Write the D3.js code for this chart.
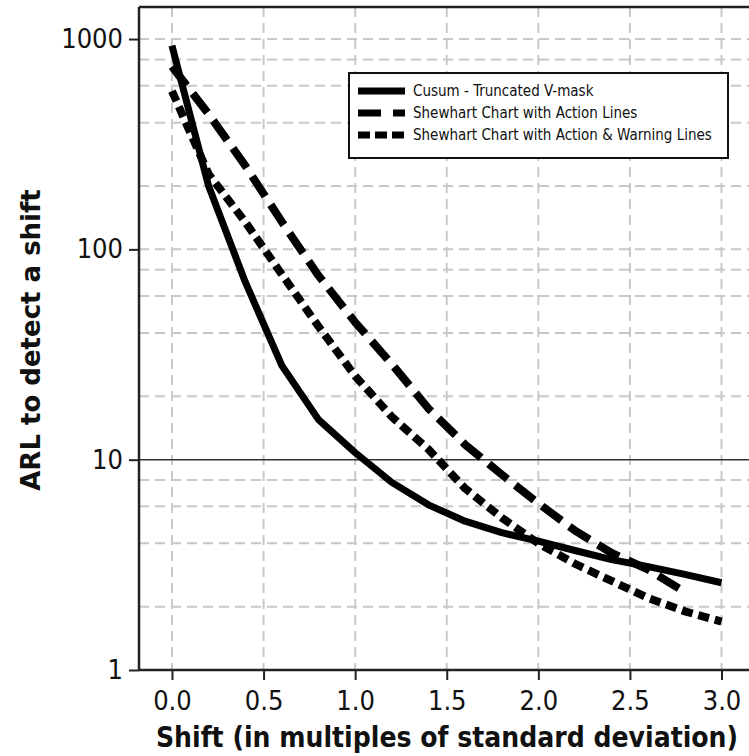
<!DOCTYPE html>
<html>
<head>
<meta charset="utf-8">
<script src="https://cdn.jsdelivr.net/npm/d3@7"></script>
<style>
  body { margin: 0; background: #fff; }
  svg { display: block; }
  text { font-family: "DejaVu Sans Condensed", "DejaVu Sans", sans-serif; fill: #111; }
</style>
</head>
<body>
<svg id="chart" width="749" height="756"></svg>
<script>
// shift values (multiples of sigma)
var shifts = [0, 0.2, 0.4, 0.6, 0.8, 1.0, 1.2, 1.4, 1.6, 1.8, 2.0, 2.2, 2.4, 2.6, 2.8, 3.0];
var cusum = [930, 200, 70, 28, 15.5, 10.8, 7.8, 6.1, 5.1, 4.5, 4.1, 3.7, 3.35, 3.1, 2.85, 2.6];
var shewhartShifts = [0, 0.2, 0.4, 0.6, 0.8, 1.0, 1.2, 1.4, 1.6, 1.8, 2.0, 2.2, 2.4, 2.6, 2.8];
var shewhart = [740, 440, 250, 135, 75, 45, 28.5, 17.5, 11.8, 8.5, 6.2, 4.6, 3.6, 3.0, 2.35];
var shewhartWarn = [565, 228, 135, 76, 43, 25, 16, 11.2, 7.3, 5.3, 4.0, 3.2, 2.65, 2.2, 1.9, 1.7];

var xTicks = [0, 0.5, 1.0, 1.5, 2.0, 2.5, 3.0];
var yTicks = [1, 10, 100, 1000];
var yGrid = [2, 4, 6, 8, 20, 40, 60, 80, 100, 200, 400, 600, 800, 1000];
var legendLabels = ["Cusum - Truncated V-mask", "Shewhart Chart with Action Lines", "Shewhart Chart with Action & Warning Lines"];

(function() {
    var svg = d3.select("#chart");

    var pLeft = 139, pRight = 749, pTop = 7, pBottom = 670;

    var x = d3.scaleLinear().domain([-0.18, 3.15]).range([pLeft, pRight]);
    var y = d3.scaleLog().domain([1, 1420]).range([pBottom, pTop]);

    // grid
    var grid = svg.append("g");
    grid.selectAll(".hg")
        .data(yGrid)
        .enter().append("line")
        .attr("x1", pLeft).attr("x2", pRight)
        .attr("y1", function(d) { return y(d); })
        .attr("y2", function(d) { return y(d); })
        .attr("stroke", "#c8c8c8")
        .attr("stroke-width", 2)
        .attr("stroke-dasharray", "10,6");
    grid.selectAll(".vg")
        .data(xTicks)
        .enter().append("line")
        .attr("x1", function(d) { return x(d); })
        .attr("x2", function(d) { return x(d); })
        .attr("y1", pTop).attr("y2", pBottom)
        .attr("stroke", "#c8c8c8")
        .attr("stroke-width", 2)
        .attr("stroke-dasharray", "10,6");

    // reference line at 10
    svg.append("line")
        .attr("x1", pLeft).attr("x2", pRight)
        .attr("y1", y(10)).attr("y2", y(10))
        .attr("stroke", "#333")
        .attr("stroke-width", 1.6);

    // axes
    var xAxis = d3.axisBottom(x).tickValues(xTicks).tickSize(10).tickPadding(6)
        .tickFormat(d3.format(".1f"));
    var yAxis = d3.axisLeft(y).tickValues(yTicks).tickSize(10).tickPadding(6)
        .tickFormat(d3.format("d"));

    var gx = svg.append("g").attr("transform", "translate(0," + pBottom + ")").call(xAxis);
    var gy = svg.append("g").attr("transform", "translate(" + pLeft + ",0)").call(yAxis);
    [gx, gy].forEach(function(g) {
        g.select(".domain").remove();
        g.selectAll(".tick line").attr("stroke", "#222").attr("stroke-width", 2);
        g.selectAll(".tick text")
            .style("font-family", "'DejaVu Sans Condensed', sans-serif")
            .style("font-size", "27px")
            .attr("fill", "#111");
    });
    gx.selectAll(".tick text").attr("dy", "0.9em");

    // frame lines
    svg.append("line").attr("x1", pLeft).attr("x2", pRight).attr("y1", pBottom).attr("y2", pBottom)
        .attr("stroke", "#222").attr("stroke-width", 2.5);
    svg.append("line").attr("x1", pLeft).attr("x2", pLeft).attr("y1", pTop).attr("y2", pBottom)
        .attr("stroke", "#222").attr("stroke-width", 2.5);
    svg.append("line").attr("x1", pLeft).attr("x2", pRight).attr("y1", pTop).attr("y2", pTop)
        .attr("stroke", "#222").attr("stroke-width", 2.5);

    // series
    var series = [
        { xs: shifts, ys: cusum, dash: null, width: 7 },
        { xs: shewhartShifts, ys: shewhart, dash: "24,10", width: 8 },
        { xs: shifts, ys: shewhartWarn, dash: "11,6", width: 8 }
    ];

    var line = d3.line()
        .x(function(d) { return x(d[0]); })
        .y(function(d) { return y(d[1]); });

    series.forEach(function(s) {
        var pts = s.xs.map(function(v, i) { return [v, s.ys[i]]; });
        svg.append("path")
            .attr("d", line(pts))
            .attr("fill", "none")
            .attr("stroke", "#000")
            .attr("stroke-width", s.width)
            .attr("stroke-linejoin", "round")
            .attr("stroke-dasharray", s.dash);
    });

    // legend
    var lg = svg.append("g");
    lg.append("rect")
        .attr("x", 349).attr("y", 73).attr("width", 379).attr("height", 85)
        .attr("fill", "#fff").attr("stroke", "#111").attr("stroke-width", 2);
    var rows = lg.selectAll(".row")
        .data(series)
        .enter().append("g")
        .attr("transform", function(d, i) { return "translate(0," + (91 + i * 22) + ")"; });
    rows.append("line")
        .attr("x1", 358).attr("x2", 405)
        .attr("stroke", "#000")
        .attr("stroke-width", 7)
        .attr("stroke-dasharray", function(d, i) { return i === 1 ? "23,12" : (i === 2 ? "12,5" : null); });
    rows.append("text")
        .attr("x", 413)
        .attr("dy", "0.35em")
        .style("font-size", "15px")
        .text(function(d, i) { return legendLabels[i]; });

    // axis titles
    svg.append("text")
        .attr("x", 447).attr("y", 747)
        .attr("text-anchor", "middle")
        .style("font-size", "28px")
        .style("font-weight", "bold")
        .text("Shift (in multiples of standard deviation)");

    svg.append("text")
        .attr("transform", "translate(40,340) rotate(-90)")
        .attr("text-anchor", "middle")
        .style("font-size", "26px")
        .style("font-weight", "bold")
        .style("font-family", "'DejaVu Sans', sans-serif")
        .text("ARL to detect a shift");
})();
</script>
</body>
</html>
